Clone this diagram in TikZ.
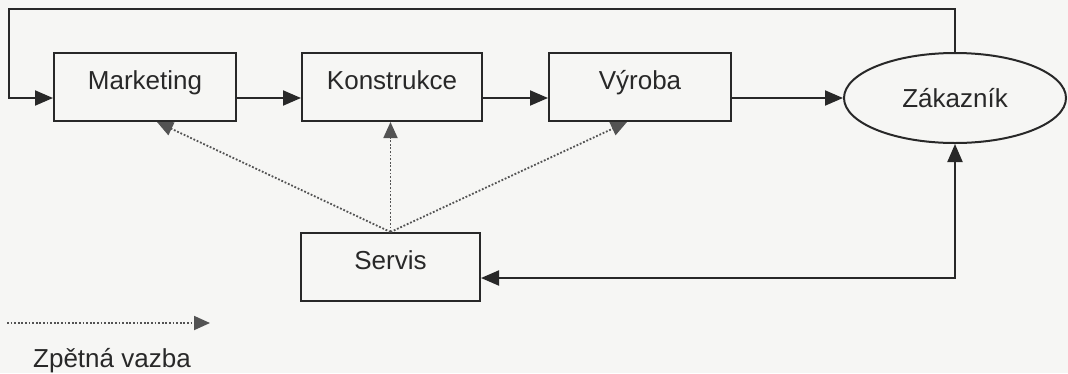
\documentclass[tikz,border=0pt]{standalone}
\usepackage{fontspec}
\setmainfont{Liberation Sans}
\usetikzlibrary{arrows.meta,shapes.geometric}
\definecolor{bg}{RGB}{246,246,244}
\definecolor{ink}{RGB}{40,40,40}
\tikzset{
  box/.style={draw=ink, line width=2pt, minimum width=#1, minimum height=68pt, inner sep=0pt, text height=19pt, text depth=14pt, font=\fontsize{26}{30}\selectfont, text=ink},
  box/.default=182pt,
  flow/.style={draw=ink, line width=2pt, -{Triangle[length=18pt,width=15pt]}},
  fb/.style={draw=ink!80, line width=1.8pt, dash pattern=on 1.8pt off 1.8pt, -{Triangle[length=16pt,width=14pt]}},
}
\begin{document}
\begin{tikzpicture}[x=1pt,y=-1pt]
\fill[bg] (0,0) rectangle (1068,373);
\useasboundingbox (0,0) rectangle (1068,373);
\node[box=182pt] (m) at (145,87) {Marketing};
\node[box=180pt] (k) at (392,87) {Konstrukce};
\node[box=182pt] (v) at (640,87) {Výroba};
\node[ellipse, draw=ink, line width=2pt, minimum width=222pt, minimum height=90pt, inner sep=0pt, font=\fontsize{26}{30}\selectfont, text=ink] (z) at (955,98) {Zákazník};
\node[box=179pt] (s) at (390.5,267) {Servis};
\coordinate (tl) at (9,9);
\draw[flow] (z.north) |- (tl) |- (m.west |- z.center);
\draw[flow] (m.east |- z.center) -- (k.west |- z.center);
\draw[flow] (k.east |- z.center) -- (v.west |- z.center);
\draw[flow] (v.east |- z.center) -- (z.west);
\draw[flow, {Triangle[length=18pt,width=15pt]}-{Triangle[length=18pt,width=15pt]}] ([yshift=-11pt]s.east) -| (z.south);
\draw[fb] (s.north) -- ([xshift=12pt]m.south);
\draw[fb] (s.north) -- (s.north |- k.south);
\draw[fb] (s.north) -- ([xshift=-13pt]v.south);
\coordinate (la) at (7,323);
\coordinate (lb) at (210,323);
\draw[fb] (la) -- (lb);
\node[anchor=west, inner sep=0pt, font=\fontsize{26}{30}\selectfont, text=ink] (leg) at (33,361) {Zpětná vazba};
\end{tikzpicture}
\end{document}
